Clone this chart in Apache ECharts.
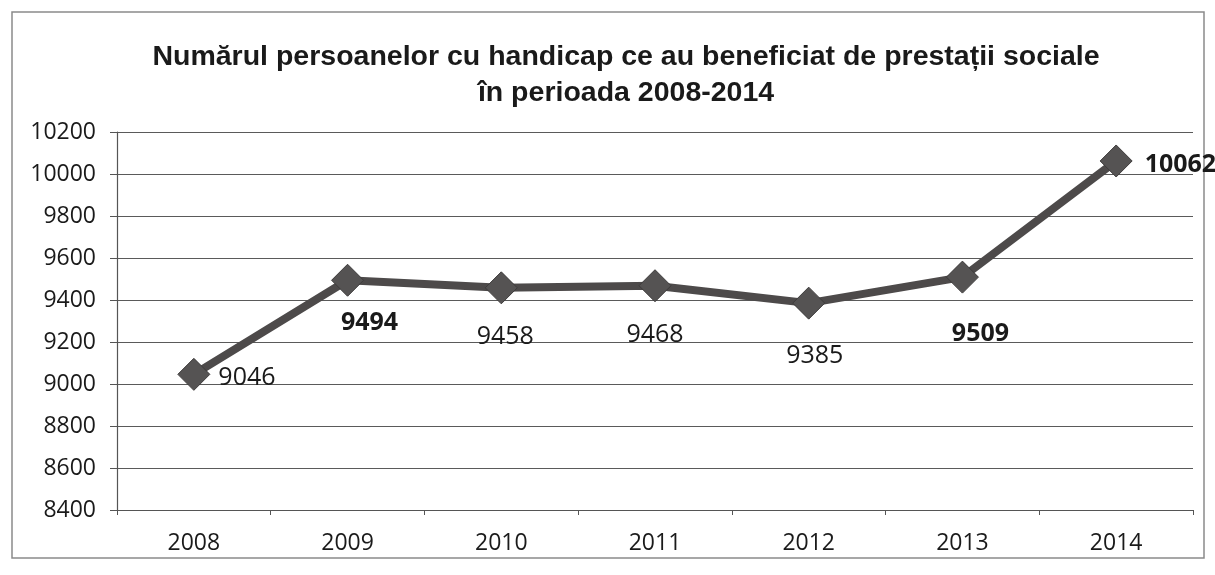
<!DOCTYPE html>
<html>
<head>
<meta charset="utf-8">
<script src="https://cdn.jsdelivr.net/npm/echarts@6/dist/echarts.min.js"></script>
<style>
  html, body { margin: 0; padding: 0; background: #fff; }
  #chart { width: 1215px; height: 575px; }
</style>
</head>
<body>
<div id="chart"></div>
<script>
// Number of people with disabilities receiving social benefits, 2008-2014
const years = ['2008', '2009', '2010', '2011', '2012', '2013', '2014'];
const beneficiaries = [9046, 9494, 9458, 9468, 9385, 9509, 10062];
const titleLines = ['Numărul persoanelor cu handicap ce au beneficiat de prestații sociale', 'în perioada 2008-2014'];

// label placement per point
const labelPos = ['right', 'bottom', 'bottom', 'bottom', 'bottom', 'bottom', 'right'];
const labelBold = [false, true, false, false, false, true, true];
const labelOffset = [[2, 4], [22, 8], [4, 14], [0, 14], [6, 18], [18, 22], [6, 4]];

const chart = echarts.init(document.getElementById('chart'), null, { renderer: 'canvas' });

const seriesData = beneficiaries.map((v, i) => ({
  value: v,
  label: {
    position: labelPos[i],
    offset: labelOffset[i],
    fontWeight: labelBold[i] ? 'bold' : 'normal'
  }
}));

chart.setOption({
  backgroundColor: '#ffffff',
  animation: false,
  title: {
    text: titleLines.join('\n'),
    left: 621,
    textAlign: 'center',
    top: 34,
    textStyle: {
      fontFamily: 'Liberation Sans',
      fontWeight: 'bold',
      fontSize: 28.5,
      color: '#1a1a1a',
      lineHeight: 36
    }
  },
  graphic: [{
    type: 'rect',
    shape: { x: 12, y: 12, width: 1192, height: 546 },
    style: { fill: 'none', stroke: '#8a8a8a', lineWidth: 1.5 },
    silent: true
  }],
  grid: { left: 117, right: 22, top: 132, bottom: 65, containLabel: false },
  xAxis: {
    type: 'category',
    data: years,
    boundaryGap: true,
    axisLine: { lineStyle: { color: '#555', width: 1.2 } },
    axisTick: { show: true, length: 5, lineStyle: { color: '#555' } },
    axisLabel: {
      fontFamily: 'Open Sans',
      fontSize: 23,
      color: '#1a1a1a',
      margin: 22
    }
  },
  yAxis: {
    type: 'value',
    min: 8400,
    max: 10200,
    interval: 200,
    axisLine: { show: true, lineStyle: { color: '#555', width: 1.2 } },
    axisTick: { show: true, inside: false, length: 7, lineStyle: { color: '#555' } },
    splitLine: { lineStyle: { color: '#5a5a5a', width: 1.2 } },
    axisLabel: {
      fontFamily: 'Open Sans',
      fontSize: 23,
      color: '#1a1a1a',
      margin: 21,
      formatter: (v) => String(v)
    }
  },
  series: [{
    type: 'line',
    data: seriesData,
    symbol: 'diamond',
    symbolSize: 32,
    lineStyle: { color: '#4d4a4a', width: 8 },
    itemStyle: { color: '#555353', borderColor: '#3d3b3b', borderWidth: 1 },
    label: {
      show: true,
      fontFamily: 'Open Sans',
      fontSize: 25,
      color: '#1a1a1a',
      distance: 6
    },
    z: 3
  }]
});
</script>
</body>
</html>
